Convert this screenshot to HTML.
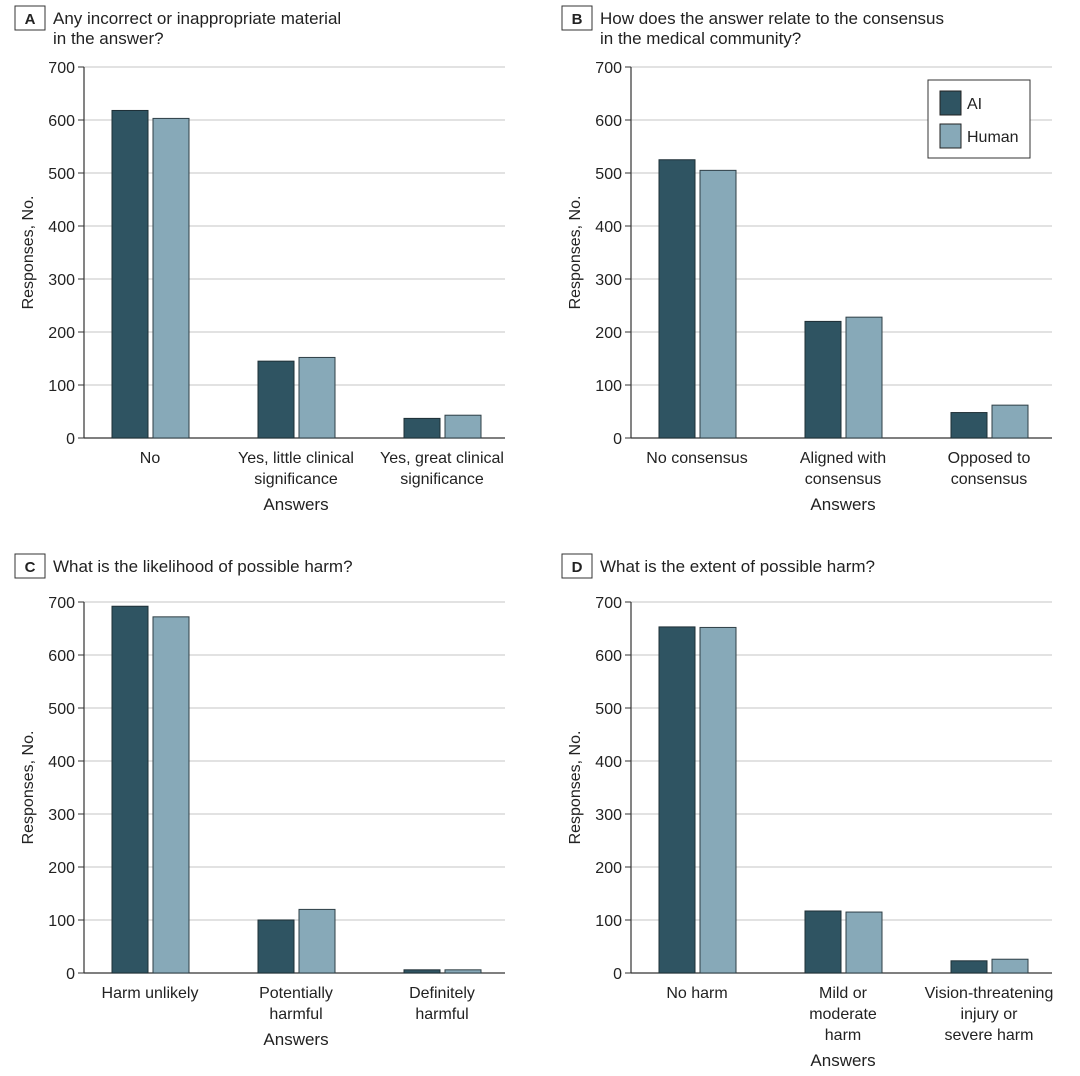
<!DOCTYPE html>
<html><head><meta charset="utf-8"><style>
body{margin:0;background:#fff;}
svg{display:block;font-family:"Liberation Sans",sans-serif;}
</style></head><body>
<svg id="c" width="1080" height="1076" viewBox="0 0 1080 1076"></svg>
<script>
const categoriesA=["No","Yes, little clinical|significance","Yes, great clinical|significance"];
const aiA=[618,145,37];
const humanA=[603,152,43];
const categoriesB=["No consensus","Aligned with|consensus","Opposed to|consensus"];
const aiB=[525,220,48];
const humanB=[505,228,62];
const categoriesC=["Harm unlikely","Potentially|harmful","Definitely|harmful"];
const aiC=[692,100,6];
const humanC=[672,120,6];
const categoriesD=["No harm","Mild or|moderate|harm","Vision-threatening|injury or|severe harm"];
const aiD=[653,117,23];
const humanD=[652,115,26];
const yTicks=[0,100,200,300,400,500,600,700];
const panels=[
 {letter:"A",title:["Any incorrect or inappropriate material","in the answer?"],cats:categoriesA,ai:aiA,hu:humanA,x0:84,x1:505,top:67,bot:438,ox:15,oy:6},
 {letter:"B",title:["How does the answer relate to the consensus","in the medical community?"],cats:categoriesB,ai:aiB,hu:humanB,x0:631,x1:1052,top:67,bot:438,ox:562,oy:6,legend:true},
 {letter:"C",title:["What is the likelihood of possible harm?"],cats:categoriesC,ai:aiC,hu:humanC,x0:84,x1:505,top:602,bot:973,ox:15,oy:554},
 {letter:"D",title:["What is the extent of possible harm?"],cats:categoriesD,ai:aiD,hu:humanD,x0:631,x1:1052,top:602,bot:973,ox:562,oy:554}
];
const AI="#2f5462",HU="#87a9b8";
const svg=document.getElementById('c');
const NS="http://www.w3.org/2000/svg";
function mk(t,a,p){const e=document.createElementNS(NS,t);for(const k in a)e.setAttribute(k,a[k]);(p||svg).appendChild(e);return e;}
panels.forEach(P=>{
 const g=mk('g',{});
 
 
 const y=v=>P.bot-(v/700)*(P.bot-P.top);
 const box=mk('rect',{x:P.ox,y:P.oy,width:30,height:24,fill:'#fff',stroke:'#333','stroke-width':1},g);
 
 
 const lt=mk('text',{x:P.ox+15,y:P.oy+18,'text-anchor':'middle','font-size':15,'font-weight':'bold',fill:'#222'},g);
 lt.textContent=P.letter;
 
 
 P.title.forEach((s,i)=>{const t=mk('text',{x:P.ox+38,y:P.oy+18+i*20,'font-size':17,fill:'#222'},g);
  t.textContent=s;
  
  });
 yTicks.forEach(v=>{
  if(v>0){const gl=mk('line',{x1:P.x0,x2:P.x1,y1:y(v),y2:y(v),stroke:'#d9d9d9','stroke-width':1.5},g);
   
   }
  mk('line',{x1:P.x0-6,x2:P.x0,y1:y(v),y2:y(v),stroke:'#333','stroke-width':1},g);
  const t=mk('text',{x:P.x0-9,y:y(v)+6,'text-anchor':'end','font-size':16,fill:'#222'},g);
  t.textContent=v;
  
  
 });
 mk('line',{x1:P.x0,x2:P.x0,y1:P.top,y2:P.bot,stroke:'#333','stroke-width':1.2},g);
 mk('line',{x1:P.x0,x2:P.x1,y1:P.bot,y2:P.bot,stroke:'#333','stroke-width':1.2},g);
 const yt=mk('text',{transform:`translate(${P.x0-51},${(P.top+P.bot)/2}) rotate(-90)`,'text-anchor':'middle','font-size':16,fill:'#222'},g);
 yt.textContent="Responses, No.";
 
 
 const step=146;
 P.cats.forEach((c,i)=>{
  const cx=P.x0+66+step*i;
  const b1=mk('rect',{x:cx-38,y:y(P.ai[i]),width:36,height:P.bot-y(P.ai[i]),fill:AI,stroke:'#1e2f36','stroke-width':1},g);
  
  
  const b2=mk('rect',{x:cx+3,y:y(P.hu[i]),width:36,height:P.bot-y(P.hu[i]),fill:HU,stroke:'#2f3f46','stroke-width':1},g);
  
  
  c.split('|').forEach((s,j)=>{
   const t=mk('text',{x:cx,y:P.bot+25+j*21,'text-anchor':'middle','font-size':16,fill:'#222'},g);
   t.textContent=s;
   
   
  });
 });
 const nl=Math.max(...P.cats.map(c=>c.split('|').length));
 const xt=mk('text',{x:P.x0+66+step,y:P.bot+25+nl*21+5,'text-anchor':'middle','font-size':17,fill:'#222'},g);
 xt.textContent="Answers";
 
 
 if(P.legend){
  const lg=mk('g',{},g);
  
  
  mk('rect',{x:928,y:80,width:102,height:78,fill:'#fff',stroke:'#333','stroke-width':1},lg);
  [["AI",AI],["Human",HU]].forEach((e,k)=>{
   const r=mk('rect',{x:940,y:91+k*33,width:21,height:24,fill:e[1],stroke:'#222','stroke-width':1},lg);
   
   
   const t=mk('text',{x:967,y:109+k*33,'font-size':16,fill:'#222'},lg);
   t.textContent=e[0];
   
   
  });
 }
});
</script>
</body></html>
